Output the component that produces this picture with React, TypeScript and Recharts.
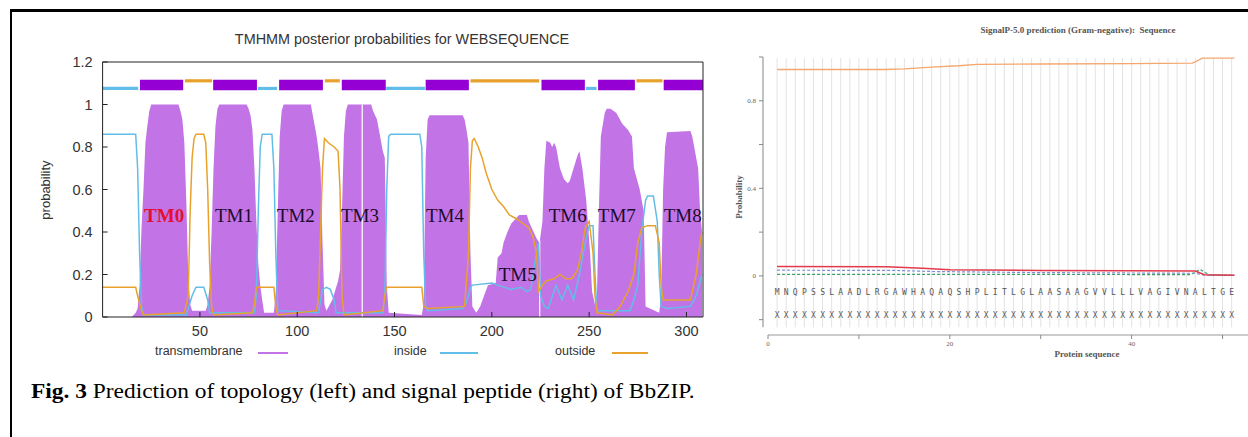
import React from 'react';
import {
  ComposedChart, Area, Line, Scatter, XAxis, YAxis, ReferenceArea, ReferenceLine,
} from 'recharts';

// ---- TMHMM (left) : [residue, probability]
const tmTrace = [
  [0, 0], [15, 0], [17, 0.02], [18, 0.04], [19, 0.15], [20, 0.42], [21, 0.6], [22, 0.82], [23, 0.9], [24, 0.97],
  [25, 1], [39, 1], [40, 0.97], [41, 0.93], [42, 0.82], [43, 0.55], [44, 0.2], [45, 0.06], [46, 0.03], [53, 0.03],
  [54, 0.06], [55, 0.15], [56, 0.4], [57, 0.7], [58, 0.9], [59, 0.98], [60, 1], [74, 1], [75, 0.98], [76, 0.95],
  [77, 0.88], [78, 0.7], [79, 0.45], [80, 0.25], [81, 0.15], [82, 0.08], [83, 0.02], [88, 0.02], [89, 0.12],
  [90, 0.5], [91, 0.85], [92, 0.97], [93, 1], [107, 1], [108, 0.95], [109, 0.9], [110, 0.85], [111, 0.78],
  [112, 0.7], [113, 0.35], [114, 0.06], [115, 0.03], [118, 0.08], [121, 0.17], [122, 0.22], [123, 0.5],
  [124, 0.85], [125, 0.97], [126, 1], [138, 1], [139, 0.97], [140, 0.95], [141, 0.93], [142, 0.88], [143, 0.83],
  [144, 0.78], [145, 0.75], [146, 0.15], [147, 0.02], [164, 0.01], [165, 0.06], [166, 0.75], [167, 0.93],
  [168, 0.95], [185, 0.95], [186, 0.93], [187, 0.88], [188, 0.82], [189, 0.3], [190, 0.05], [192, 0.02],
  [194, 0.05], [196, 0.1], [198, 0.15], [202, 0.16], [203, 0.28], [205, 0.3], [206, 0.35], [208, 0.4],
  [210, 0.44], [212, 0.46], [214, 0.48], [218, 0.48], [219, 0.45], [221, 0.41], [223, 0.37], [224.5, 0.35],
  [226, 0.45], [227, 0.7], [228, 0.83], [230, 0.82], [231, 0.8], [232, 0.82], [233, 0.8], [235, 0.7],
  [237, 0.65], [239, 0.63], [240, 0.64], [242, 0.7], [244, 0.76], [245, 0.78], [246.5, 0.7], [248.5, 0.55],
  [250.5, 0.3], [251.5, 0.12], [253, 0.06], [254, 0.1], [255, 0.5], [256, 0.85], [258, 0.96], [259, 0.98],
  [261, 0.98], [264, 0.96], [267, 0.91], [270, 0.88], [272, 0.85], [273, 0.7], [276, 0.6], [278, 0.5],
  [279, 0.05], [286, 0.02], [287, 0.1], [288, 0.6], [289, 0.8], [290, 0.87], [302, 0.875], [303, 0.85],
  [304, 0.8], [305, 0.75], [306, 0.7], [307, 0.5], [308, 0.4],
];

const insideTrace = [
  [0, 0.86], [17, 0.86], [18, 0.7], [19, 0.3], [20, 0.05], [21, 0.01], [43, 0.01], [44, 0.04], [46, 0.1],
  [48, 0.14], [52, 0.14], [54, 0.08], [55, 0.02], [78, 0.02], [79, 0.1], [80, 0.5], [81, 0.8], [82, 0.86],
  [87, 0.86], [88, 0.7], [89, 0.3], [90, 0.03], [111, 0.02], [112, 0.08], [113, 0.13], [115, 0.14], [117, 0.13],
  [119, 0.08], [120, 0.02], [144, 0.02], [145, 0.1], [146, 0.6], [147, 0.85], [148, 0.86], [163, 0.86],
  [164, 0.8], [165, 0.3], [166, 0.05], [167, 0.03], [185, 0.04], [187, 0.07], [188, 0.1], [189, 0.14],
  [190, 0.15], [200, 0.16], [203, 0.15], [210, 0.13], [215, 0.14], [218, 0.12], [220, 0.13], [222, 0.25],
  [224, 0.35], [225, 0.1], [227, 0.05], [229, 0.04], [233, 0.15], [236, 0.08], [239, 0.15], [242, 0.08],
  [245, 0.2], [248, 0.35], [250, 0.43], [252, 0.43], [253, 0.2], [254, 0.03], [271, 0.03], [273, 0.08],
  [275, 0.15], [277, 0.4], [279, 0.55], [280, 0.57], [283, 0.57], [285, 0.45], [286, 0.2], [287, 0.05],
  [290, 0.04], [302, 0.05], [305, 0.1], [308, 0.2],
];

const outsideTrace = [
  [0, 0.14], [17, 0.14], [18, 0.1], [20, 0.03], [21, 0.01], [42, 0.02], [44, 0.1], [45, 0.5], [46, 0.75],
  [47, 0.84], [48, 0.86], [52, 0.86], [53, 0.82], [54, 0.6], [55, 0.25], [56, 0.05], [57, 0.01], [77, 0.02],
  [78, 0.06], [79, 0.14], [88, 0.14], [89, 0.05], [90, 0.01], [110, 0.03], [111, 0.1], [112, 0.4], [113, 0.7],
  [114, 0.84], [116, 0.82], [119, 0.8], [121, 0.78], [122, 0.6], [123, 0.1], [124, 0.01], [144, 0.03],
  [145, 0.1], [146, 0.14], [164, 0.14], [165, 0.05], [167, 0.04], [186, 0.05], [188, 0.3], [189, 0.7],
  [190, 0.83], [191, 0.84], [193, 0.8], [195, 0.75], [197, 0.68], [200, 0.6], [203, 0.55], [206, 0.52],
  [209, 0.48], [213, 0.46], [216, 0.44], [219, 0.42], [221, 0.38], [223, 0.3], [224, 0.12], [226, 0.15],
  [228, 0.17], [232, 0.18], [235, 0.2], [238, 0.18], [241, 0.18], [244, 0.22], [246, 0.3], [248, 0.42],
  [250, 0.45], [252, 0.3], [253, 0.1], [254, 0.02], [262, 0.01], [266, 0.05], [270, 0.12], [273, 0.2],
  [275, 0.35], [277, 0.42], [280, 0.43], [284, 0.43], [286, 0.35], [287, 0.15], [288, 0.08], [302, 0.08],
  [305, 0.2], [307, 0.35], [308, 0.4],
];

// predicted topology bar on top of the plot
const insideSegs = [[0, 18.3], [79.8, 89.6], [145.7, 165.6], [248.3, 253.8]];
const tmSegs = [[19.2, 41.4], [56.8, 79.3], [90.7, 113.2], [122.9, 145.5], [166, 188.2], [225.5, 247.8], [254.6, 273.5], [288.3, 308.5]];
const outsideSegs = [[42.3, 56.2], [114.2, 121.9], [189, 224.3], [274.3, 287.7]];

const tmNames = ['TM0', 'TM1', 'TM2', 'TM3', 'TM4', 'TM5', 'TM6', 'TM7', 'TM8'];
const tmNameX = [31.6, 67.5, 99.3, 132.2, 175.9, 213.3, 239, 264.2, 298.1];
const tmNameY = [0.48, 0.48, 0.48, 0.48, 0.48, 0.2, 0.48, 0.48, 0.48];

const tmXTicks = [50, 100, 150, 200, 250, 300];
const tmYTicks = [0, 0.2, 0.4, 0.6, 0.8, 1, 1.2];

// ---- SignalP-5.0 (right)
const sequence = 'MNQPSSLAADLRGAWHAQAQSHPLITLGLAASAAGVVLLLVAGIVNALTGE';
const otherTrace = [[1, 0.943], [13, 0.943], [15, 0.946], [18, 0.954], [21, 0.96], [23, 0.966], [30, 0.968], [40, 0.97], [46.7, 0.972], [47.8, 0.995], [51.3, 0.995]];
const secTrace = [[1, 0.043], [13, 0.042], [17, 0.035], [20, 0.028], [30, 0.025], [40, 0.024], [47, 0.022], [48, 0.005], [51.3, 0.003]];
const csTrace = [[1, 0.026], [14, 0.025], [18, 0.02], [30, 0.015], [47, 0.012], [48, 0.003], [51.3, 0.002]];
const lipoTrace = [[1, 0.007], [20, 0.007], [46.5, 0.006], [47.5, 0.03], [48.5, 0.005], [51.3, 0.003]];

const spXTicks = [0, 10, 20, 30, 40, 50];
const spYTicks = [-0.2, 0, 0.2, 0.4, 0.6, 0.8, 1];

const toXY = (arr) => arr.map(([x, y]) => ({ x, y }));

const TM_FILL = '#c274e6';
const TM_BAR = '#9400d3';
const IN_COL = '#62bde9';
const OUT_COL = '#e8a22c';
const AXIS = '#222';
const SANS = '"Liberation Sans", Arial, sans-serif';
const SERIF = '"Liberation Serif", "Times New Roman", serif';

function TmhmmChart() {
  const names = tmNames.map((n, i) => ({ x: tmNameX[i], y: tmNameY[i], name: n }));
  return (
    <ComposedChart width={720} height={347} margin={{ top: 62, right: 17, bottom: 0, left: 72.6 }}>
      <XAxis type="number" dataKey="x" domain={[0, 308.5]} ticks={tmXTicks} allowDataOverflow
        stroke={AXIS} tickSize={-5} tickMargin={14} height={30}
        tick={{ fontSize: 14.5, fill: '#333', fontFamily: SANS }} />
      <XAxis xAxisId="t" orientation="top" mirror type="number" domain={[0, 308.5]} ticks={tmXTicks}
        stroke={AXIS} tickSize={5} tickFormatter={() => ''} />
      <YAxis type="number" dataKey="y" domain={[0, 1.2]} ticks={tmYTicks} allowDataOverflow width={30}
        stroke={AXIS} tickSize={-5} tickMargin={15}
        tick={{ fontSize: 14.5, fill: '#333', fontFamily: SANS }} />
      <YAxis yAxisId="r" orientation="right" mirror type="number" domain={[0, 1.2]} ticks={tmYTicks}
        stroke={AXIS} tickSize={5} tickFormatter={() => ''} />

      <Area data={toXY(tmTrace)} dataKey="y" type="linear" stroke="none" fill={TM_FILL} fillOpacity={1} isAnimationActive={false} />
      <ReferenceLine segment={[{ x: 133.4, y: 0 }, { x: 133.4, y: 1 }]} stroke="#fff" strokeWidth={1.2} />
      <ReferenceLine segment={[{ x: 224.6, y: 0 }, { x: 224.6, y: 0.36 }]} stroke="#fff" strokeWidth={1.2} />
      <Line data={toXY(insideTrace)} dataKey="y" type="linear" stroke={IN_COL} strokeWidth={1.5} dot={false} isAnimationActive={false} />
      <Line data={toXY(outsideTrace)} dataKey="y" type="linear" stroke={OUT_COL} strokeWidth={1.5} dot={false} isAnimationActive={false} />

      {insideSegs.map(([a, b], i) => (
        <ReferenceArea key={'in' + i} x1={a} x2={b} y1={1.068} y2={1.083} fill={IN_COL} fillOpacity={1} stroke="none" />
      ))}
      {outsideSegs.map(([a, b], i) => (
        <ReferenceArea key={'out' + i} x1={a} x2={b} y1={1.104} y2={1.119} fill={OUT_COL} fillOpacity={1} stroke="none" />
      ))}
      {tmSegs.map(([a, b], i) => (
        <ReferenceArea key={'tm' + i} x1={a} x2={b} y1={1.067} y2={1.117} fill={TM_BAR} fillOpacity={1} stroke="none" />
      ))}

      <Scatter data={names} isAnimationActive={false}
        shape={(p) => (
          <text x={p.cx} y={p.cy} textAnchor="middle" dominantBaseline="central"
            fontFamily={SERIF} fontSize={19}
            fontWeight={p.payload.name === 'TM0' ? 'bold' : 'normal'}
            fill={p.payload.name === 'TM0' ? '#e3102f' : '#1c0a2c'}>
            {p.payload.name}
          </text>
        )} />
    </ComposedChart>
  );
}

function SignalPChart() {
  const letters = sequence.split('').map((c, i) => ({ x: i + 1, y: -0.078, c }));
  const crosses = sequence.split('').map((c, i) => ({ x: i + 1, y: -0.183, c: 'X' }));
  const grid = sequence.split('').map((_, i) => i + 1);
  const letterShape = (p) => (
    <text x={p.cx} y={p.cy} textAnchor="middle" dominantBaseline="central"
      fontFamily='"DejaVu Sans Mono", monospace' fontSize={8} fill="#555">
      {p.payload.c}
    </text>
  );
  return (
    <ComposedChart width={548} height={360} margin={{ top: 57, right: 0, bottom: 0, left: 33 }}>
      <XAxis type="number" dataKey="x" domain={[-0.55, 52.8]} ticks={spXTicks} allowDataOverflow
        axisLine={false} stroke="#888" tickSize={4} tickMargin={2} height={25}
        tickFormatter={(v) => (v % 20 === 0 ? String(v) : '')}
        tick={{ fontSize: 7, fill: '#666', fontFamily: SERIF }} />
      <YAxis type="number" dataKey="y" domain={[-0.27, 1]} ticks={spYTicks} allowDataOverflow width={30}
        axisLine={false} stroke="#888" tickSize={4} tickMargin={3}
        tickFormatter={(v) => (v === 0 || v === 0.4 || v === 0.8 ? String(v) : '')}
        tick={{ fontSize: 7, fill: '#666', fontFamily: SERIF }} />

      {grid.map((g) => (
        <ReferenceLine key={g} segment={[{ x: g, y: -0.235 }, { x: g, y: 0.995 }]} stroke="#e3e3e3" strokeWidth={1} />
      ))}
      <ReferenceLine segment={[{ x: 0, y: -0.27 }, { x: 52.8, y: -0.27 }]} stroke="#999" strokeWidth={1.2} ifOverflow="visible" />
      <ReferenceLine segment={[{ x: -0.55, y: -0.235 }, { x: -0.55, y: 1 }]} stroke="#999" strokeWidth={1.2} ifOverflow="visible" />

      <Line data={toXY(otherTrace)} dataKey="y" type="linear" stroke="#f5a66d" strokeWidth={1.3} dot={false} isAnimationActive={false} />
      <Line data={toXY(lipoTrace)} dataKey="y" type="linear" stroke="#3f9e66" strokeWidth={1.2} strokeDasharray="3 2" dot={false} isAnimationActive={false} />
      <Line data={toXY(csTrace)} dataKey="y" type="linear" stroke="#7d8bd6" strokeWidth={1.2} strokeDasharray="3 2" dot={false} isAnimationActive={false} />
      <Line data={toXY(secTrace)} dataKey="y" type="linear" stroke="#e23a4c" strokeWidth={1.5} dot={false} isAnimationActive={false} />

      <Scatter data={letters} isAnimationActive={false} shape={letterShape} />
      <Scatter data={crosses} isAnimationActive={false} shape={letterShape} />
    </ComposedChart>
  );
}

export default function App() {
  const abs = (s) => ({ position: 'absolute', whiteSpace: 'nowrap', ...s });
  return (
    <div style={{ position: 'absolute', left: 0, top: 0, width: 1248, height: 437, background: '#fff', overflow: 'hidden' }}>
      <div style={abs({ left: 10, top: 9, width: 1240, height: 430, borderTop: '3px solid #000', borderLeft: '2.5px solid #000' })} />

      <div style={abs({ left: 0, top: 0 })}><TmhmmChart /></div>
      <div style={abs({ left: 700, top: 0 })}><SignalPChart /></div>

      <div style={abs({ left: 402, top: 31, transform: 'translateX(-50%)', fontFamily: SANS, fontSize: 14.4, color: '#333' })}>
        TMHMM posterior probabilities for WEBSEQUENCE
      </div>
      <div style={abs({ left: 45, top: 190, transform: 'translate(-50%, -50%) rotate(-90deg)', fontFamily: SANS, fontSize: 13, color: '#333' })}>
        probability
      </div>

      <div style={abs({ left: 155, top: 344, fontFamily: SANS, fontSize: 12.5, color: '#333' })}>transmembrane</div>
      <div style={abs({ left: 258, top: 352, width: 30, height: 2, background: TM_FILL })} />
      <div style={abs({ left: 394, top: 344, fontFamily: SANS, fontSize: 12.5, color: '#333' })}>inside</div>
      <div style={abs({ left: 440, top: 352, width: 38, height: 2, background: IN_COL })} />
      <div style={abs({ left: 555, top: 344, fontFamily: SANS, fontSize: 12.5, color: '#333' })}>outside</div>
      <div style={abs({ left: 612, top: 352, width: 36, height: 2, background: OUT_COL })} />

      <div style={abs({ left: 1078, top: 25, transform: 'translateX(-50%)', fontFamily: SERIF, fontSize: 9, fontWeight: 'bold', color: '#555' })}>
        SignalP-5.0 prediction (Gram-negative):&nbsp; Sequence
      </div>
      <div style={abs({ left: 739, top: 197, transform: 'translate(-50%, -50%) rotate(-90deg)', fontFamily: SERIF, fontSize: 9, fontWeight: 'bold', color: '#555' })}>
        Probability
      </div>
      <div style={abs({ left: 1087, top: 349, transform: 'translateX(-50%)', fontFamily: SERIF, fontSize: 9, fontWeight: 'bold', color: '#555' })}>
        Protein sequence
      </div>

      <div style={abs({ left: 31, top: 380, fontFamily: SERIF, fontSize: 20, color: '#000', transform: 'scaleX(1.17)', transformOrigin: 'left center' })}>
        <b>Fig. 3</b> Prediction of topology (left) and signal peptide (right) of BbZIP.
      </div>
    </div>
  );
}
